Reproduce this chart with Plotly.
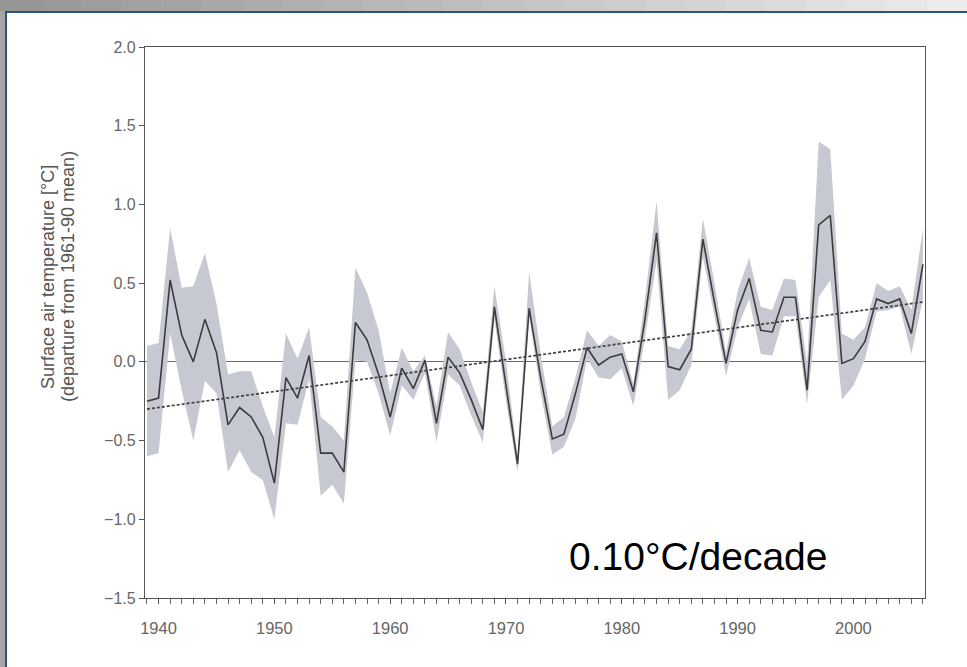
import plotly.graph_objects as go

# ---------------- data ----------------
years = list(range(1939, 2007))

mean_anom = [
    -0.25, -0.23, 0.52, 0.17, 0.00, 0.27, 0.06, -0.40, -0.29, -0.35,   # 1939-1948
    -0.48, -0.77, -0.10, -0.23, 0.04, -0.58, -0.58, -0.70, 0.25, 0.14,  # 1949-1958
    -0.08, -0.35, -0.04, -0.17, 0.01, -0.39, 0.03, -0.07, -0.24, -0.43, # 1959-1968
    0.35, -0.15, -0.65, 0.34, -0.10, -0.49, -0.46, -0.20, 0.09, -0.02,  # 1969-1978
    0.03, 0.05, -0.19, 0.27, 0.82, -0.03, -0.05, 0.08, 0.78, 0.38,      # 1979-1988
    -0.01, 0.33, 0.53, 0.20, 0.19, 0.41, 0.41, -0.18, 0.87, 0.93,       # 1989-1998
    -0.01, 0.02, 0.13, 0.40, 0.37, 0.40, 0.18, 0.62,                    # 1999-2006
]

upper_band = [
    0.10, 0.12, 0.85, 0.47, 0.48, 0.69, 0.37, -0.08, -0.06, -0.06,
    -0.28, -0.48, 0.18, 0.02, 0.22, -0.35, -0.41, -0.50, 0.60, 0.44,
    0.20, -0.20, 0.09, -0.06, 0.04, -0.28, 0.19, 0.08, -0.13, -0.32,
    0.48, 0.00, -0.60, 0.57, 0.05, -0.41, -0.35, -0.10, 0.20, 0.10,
    0.17, 0.13, -0.14, 0.40, 1.02, 0.10, 0.08, 0.20, 0.91, 0.50,
    0.06, 0.45, 0.66, 0.35, 0.33, 0.53, 0.52, -0.01, 1.40, 1.35,
    0.18, 0.14, 0.22, 0.50, 0.45, 0.48, 0.33, 0.85,
]

lower_band = [
    -0.60, -0.58, 0.18, -0.18, -0.50, -0.12, -0.20, -0.70, -0.56, -0.70,
    -0.75, -1.00, -0.39, -0.40, -0.11, -0.85, -0.78, -0.90, 0.01, 0.00,
    -0.20, -0.47, -0.15, -0.24, -0.07, -0.51, -0.08, -0.15, -0.34, -0.51,
    0.27, -0.25, -0.70, 0.29, -0.20, -0.59, -0.54, -0.36, 0.02, -0.10,
    -0.11, -0.04, -0.28, 0.15, 0.64, -0.24, -0.18, -0.02, 0.67, 0.28,
    -0.09, 0.22, 0.40, 0.05, 0.04, 0.29, 0.29, -0.27, 0.41, 0.52,
    -0.24, -0.15, 0.02, 0.32, 0.33, 0.35, 0.05, 0.40,
]

trend_years = [1939, 2006]
trend_vals = [-0.30, 0.38]

x_tick_vals = [1940, 1950, 1960, 1970, 1980, 1990, 2000]
y_tick_vals = [-1.5, -1.0, -0.5, 0.0, 0.5, 1.0, 1.5, 2.0]

y_title_1 = "Surface air temperature [°C]"
y_title_2 = "(departure from 1961-90 mean)"
trend_label = "0.10°C/decade"

# ---------------- figure ----------------
W, H = 967, 667
L, R, T, B = 145, 42, 47, 69
PW, PH = W - L - R, H - T - B
FONT = "Liberation Sans, Arial, sans-serif"


def px(xp):
    return (xp - L) / PW


def py(yp):
    return (H - B - yp) / PH


fig = go.Figure()

fig.add_trace(go.Scatter(x=years, y=upper_band, mode="lines",
                         line=dict(width=0, color="rgba(0,0,0,0)"),
                         hoverinfo="skip", showlegend=False))
fig.add_trace(go.Scatter(x=years, y=lower_band, mode="lines",
                         line=dict(width=0, color="rgba(0,0,0,0)"),
                         fill="tonexty", fillcolor="rgb(198,200,210)",
                         hoverinfo="skip", showlegend=False))
fig.add_trace(go.Scatter(x=years, y=mean_anom, mode="lines",
                         line=dict(width=1.6, color="#3c3c3c"),
                         showlegend=False))
fig.add_trace(go.Scatter(x=trend_years, y=trend_vals, mode="lines",
                         line=dict(width=1.7, color="#404040", dash="3px,2px"),
                         showlegend=False))

fig.update_xaxes(
    range=[1938.83, 2006.18], tickmode="array", tickvals=x_tick_vals,
    ticks="outside", ticklen=5, tickcolor="#555", tickwidth=1,
    minor=dict(dtick=1, tick0=1939, ticks="outside", ticklen=5,
               tickcolor="#666", tickwidth=1),
    ticklabelstandoff=10,
    showgrid=False, zeroline=False,
    showline=True, linecolor="#555", linewidth=1.3, mirror=True,
    tickfont=dict(family=FONT, size=16.5, color="#666"),
)
fig.update_yaxes(
    range=[-1.5, 2.0], tickmode="array", tickvals=y_tick_vals,
    tickformat=".1f", ticks="outside", ticklen=5, tickcolor="#555",
    showgrid=False, zeroline=True, zerolinecolor="#6a6a6a", zerolinewidth=1.3,
    showline=True, linecolor="#555", linewidth=1.3, mirror=True,
    tickfont=dict(family=FONT, size=16, color="#666"),
)

# outer slide-like frame
shapes = []
n = 24
for i in range(n):
    g = int(150 + (235 - 150) * i / (n - 1))
    shapes.append(dict(type="rect", xref="paper", yref="paper",
                       x0=px(i * W / n), x1=px((i + 1) * W / n + 1),
                       y0=py(11), y1=py(0), line=dict(width=0),
                       fillcolor=f"rgb({g},{g},{g})", layer="below"))
shapes.append(dict(type="rect", xref="paper", yref="paper",
                   x0=px(0), x1=px(5), y0=py(H), y1=py(11),
                   line=dict(width=0), fillcolor="rgb(165,165,165)", layer="below"))
shapes.append(dict(type="line", xref="paper", yref="paper",
                   x0=px(5), x1=px(W), y0=py(12), y1=py(12),
                   line=dict(color="#2c5289", width=2)))
shapes.append(dict(type="line", xref="paper", yref="paper",
                   x0=px(6), x1=px(6), y0=py(12), y1=py(H),
                   line=dict(color="#2c5289", width=2)))
fig.update_layout(shapes=shapes)

annotations = [
    dict(text=y_title_1, xref="paper", yref="paper", x=px(48), y=py(277),
         textangle=-90, showarrow=False, xanchor="center", yanchor="middle",
         font=dict(family=FONT, size=18, color="#555")),
    dict(text=y_title_2, xref="paper", yref="paper", x=px(68), y=py(277),
         textangle=-90, showarrow=False, xanchor="center", yanchor="middle",
         font=dict(family=FONT, size=18, color="#555")),
    dict(text=trend_label, xref="paper", yref="paper", x=px(698), y=py(556),
         showarrow=False, xanchor="center", yanchor="middle",
         font=dict(family=FONT, size=39, color="#000")),
]
fig.update_layout(annotations=annotations)

fig.update_layout(
    width=W, height=H,
    margin=dict(l=L, r=R, t=T, b=B),
    paper_bgcolor="white", plot_bgcolor="white",
    showlegend=False,
)

fig.write_html("out.html")
